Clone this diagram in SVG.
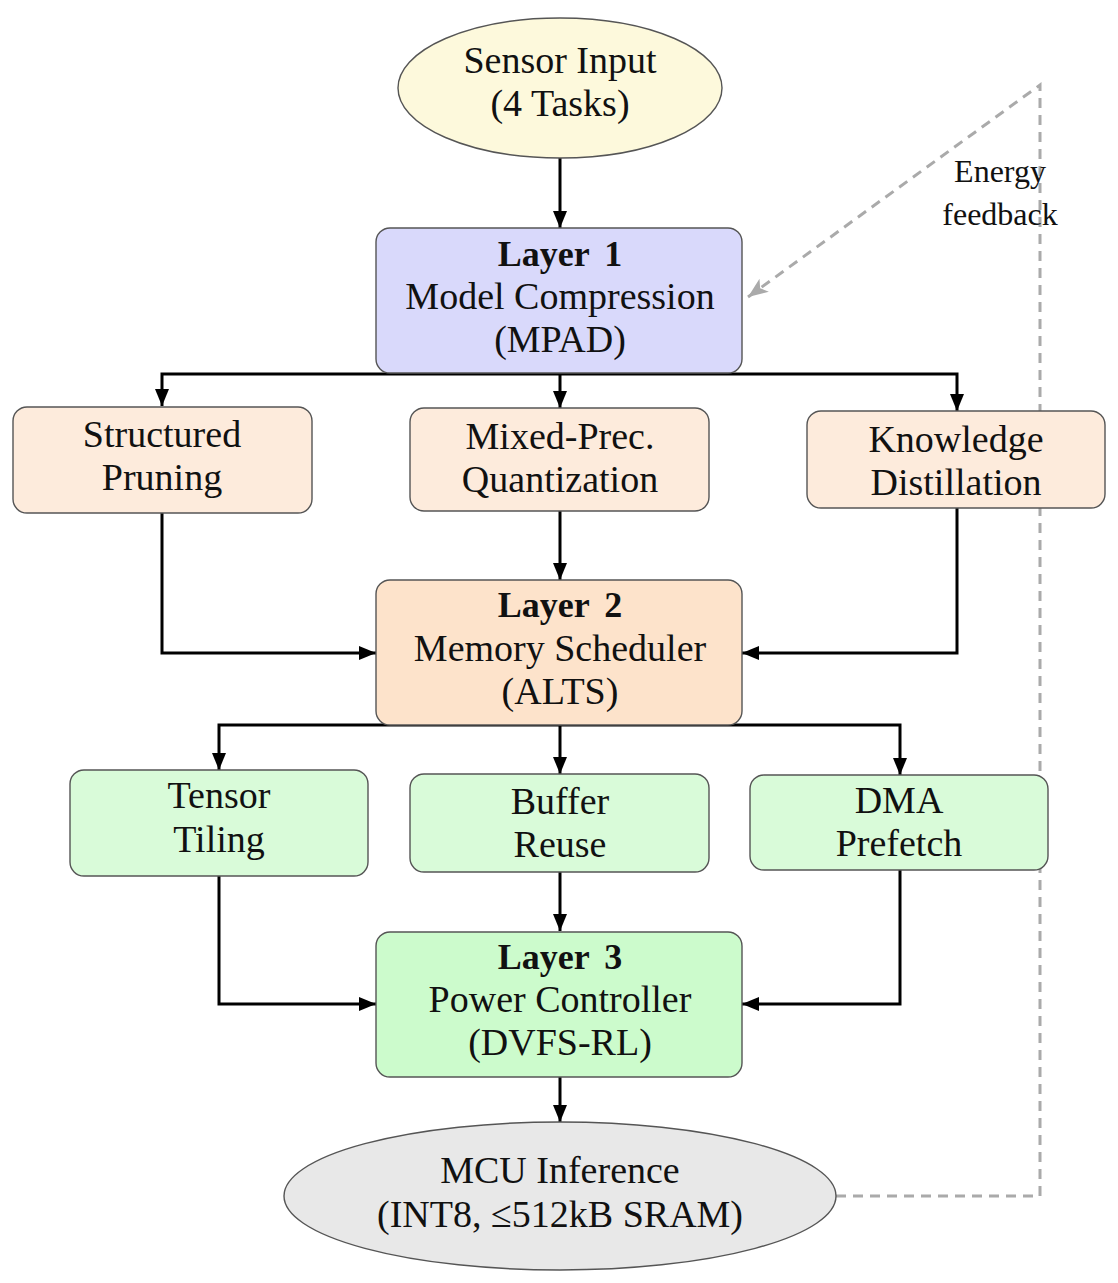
<svg xmlns="http://www.w3.org/2000/svg" width="1118" height="1283" viewBox="0 0 1118 1283">
<defs>
<style>
text{font-family:"Liberation Serif","Times New Roman",serif;font-size:38px;fill:#111;text-anchor:middle}
.b{font-weight:bold;font-size:36px;word-spacing:6px}
.sm{font-size:32px}
.node{stroke:#555;stroke-width:1.4}
.l1{fill:#d9d9fb}
.l2{fill:#fde3cb}
.l3{fill:#ccfbcc}
.p{fill:#fdebdc}
.g{fill:#d9fbd9}
.conn{fill:none;stroke:#000;stroke-width:3;marker-end:url(#ah)}
.fb{fill:none;stroke:#aaa;stroke-width:3;stroke-dasharray:10 7}
</style>
<marker id="ah" markerUnits="userSpaceOnUse" markerWidth="18" markerHeight="14" refX="17" refY="7" orient="auto">
<path d="M0,0 L17,7 L0,14 z" fill="#000"/>
</marker>
<marker id="ahg" markerUnits="userSpaceOnUse" markerWidth="21" markerHeight="16" refX="20" refY="8" orient="auto">
<path d="M0,0 L20,8 L0,16 L5,8 z" fill="#aaa"/>
</marker>
</defs>
<g id="connectors">
<path class="conn" d="M560,158 V228"/>
<path class="conn" d="M560,374 H162 V406"/>
<path class="conn" d="M560,374 V408"/>
<path class="conn" d="M560,374 H957 V411"/>
<path class="conn" d="M162,513 V653 H376"/>
<path class="conn" d="M560,511 V580"/>
<path class="conn" d="M957,508 V653 H742"/>
<path class="conn" d="M560,725 H219 V770"/>
<path class="conn" d="M560,725 V774"/>
<path class="conn" d="M560,725 H900 V775"/>
<path class="conn" d="M219,876 V1004 H376"/>
<path class="conn" d="M560,872 V931"/>
<path class="conn" d="M900,870 V1004 H742"/>
<path class="conn" d="M560,1077 V1122"/>
<path class="fb" d="M836,1196 H1040 V85 L748,297" marker-end="url(#ahg)"/>
<text class="sm" x="1000" y="182">Energy</text>
<text class="sm" x="1000" y="225">feedback</text>
</g>
<g id="sensor">
<ellipse class="node" cx="560" cy="88" rx="162" ry="70" fill="#fdf9dc"/>
<text x="560" y="73">Sensor Input</text>
<text x="560" y="116">(4 Tasks)</text>
</g>
<g id="layer1">
<rect class="node l1" x="376" y="228" width="366" height="145" rx="14"/>
<text class="b" x="560" y="266">Layer 1</text>
<text x="560" y="309">Model Compression</text>
<text x="560" y="352">(MPAD)</text>
</g>
<g id="pruning">
<rect class="node p" x="13" y="407" width="299" height="106" rx="14"/>
<text x="162" y="447">Structured</text>
<text x="162" y="490">Pruning</text>
</g>
<g id="quant">
<rect class="node p" x="410" y="408" width="299" height="103" rx="14"/>
<text x="560" y="449">Mixed-Prec.</text>
<text x="560" y="492">Quantization</text>
</g>
<g id="distill">
<rect class="node p" x="807" y="411" width="298" height="97" rx="14"/>
<text x="956" y="452">Knowledge</text>
<text x="956" y="495">Distillation</text>
</g>
<g id="layer2">
<rect class="node l2" x="376" y="580" width="366" height="145" rx="14"/>
<text class="b" x="560" y="617">Layer 2</text>
<text x="560" y="661">Memory Scheduler</text>
<text x="560" y="704">(ALTS)</text>
</g>
<g id="tiling">
<rect class="node g" x="70" y="770" width="298" height="106" rx="14"/>
<text x="219" y="808">Tensor</text>
<text x="219" y="852">Tiling</text>
</g>
<g id="buffer">
<rect class="node g" x="410" y="774" width="299" height="98" rx="14"/>
<text x="560" y="814">Buffer</text>
<text x="560" y="857">Reuse</text>
</g>
<g id="dma">
<rect class="node g" x="750" y="775" width="298" height="95" rx="14"/>
<text x="899" y="813">DMA</text>
<text x="899" y="856">Prefetch</text>
</g>
<g id="layer3">
<rect class="node l3" x="376" y="932" width="366" height="145" rx="14"/>
<text class="b" x="560" y="969">Layer 3</text>
<text x="560" y="1012">Power Controller</text>
<text x="560" y="1055">(DVFS-RL)</text>
</g>
<g id="mcu">
<ellipse class="node" cx="560" cy="1196" rx="276" ry="74" fill="#e8e8e8"/>
<text x="560" y="1183">MCU Inference</text>
<text x="560" y="1227">(INT8, ≤512kB SRAM)</text>
</g>
</svg>
